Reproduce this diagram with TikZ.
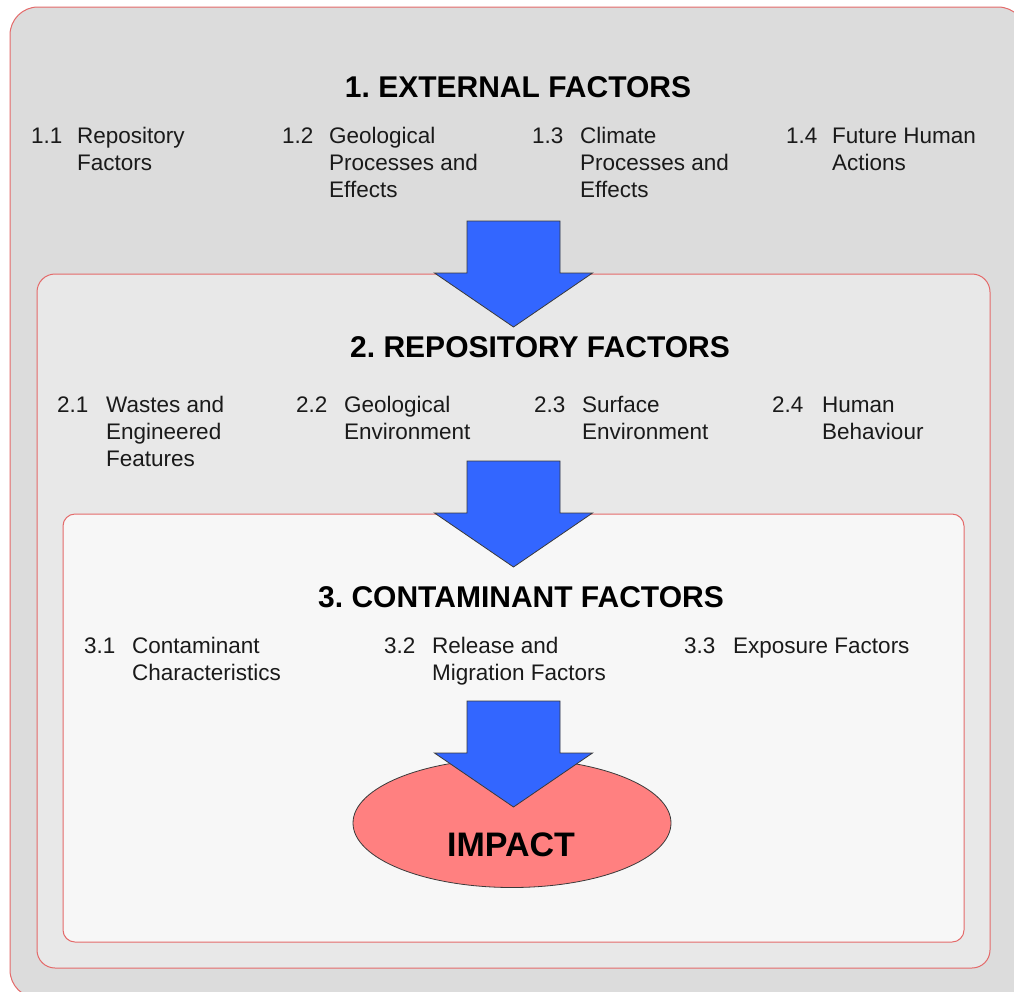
\documentclass[tikz,border=0pt]{standalone}
\usepackage{fontspec}
\setmainfont{Liberation Sans}
\setsansfont{Liberation Sans}
\usetikzlibrary{shapes.geometric}
\frenchspacing

\definecolor{levelone}{HTML}{DCDCDC}
\definecolor{leveltwo}{HTML}{E8E8E8}
\definecolor{levelthree}{HTML}{F7F7F7}
\definecolor{frameline}{HTML}{E46A6A}
\definecolor{flowblue}{HTML}{3366FF}
\definecolor{impactred}{HTML}{FF8080}
\definecolor{outlinegray}{HTML}{3A3A3A}
\definecolor{bodytext}{HTML}{1A1A1A}

% stacked lines of an item, baseline on the first line
\newcommand\itemlines[1]{\vtop{\baselineskip=27pt\halign{##\hfil\cr#1\crcr}}}

\tikzset{
  levelbox/.style={draw=frameline, line width=1pt},
  leveltitle/.style={inner sep=0pt, anchor=base, font=\bfseries\fontsize{30}{36}\selectfont, text=black},
  itemnum/.style={inner sep=0pt, anchor=base west, font=\fontsize{22.5}{27}\selectfont, text=bodytext},
  itemtext/.style={inner sep=0pt, anchor=base west, font=\fontsize{22.5}{27}\selectfont, text=bodytext},
  flowarrow/.style={fill=flowblue, draw=outlinegray, line width=0.8pt, line join=miter},
  pics/downarrow/.style={code={
    \draw[flowarrow] (-46.5,0) -- (46.5,0) -- (46.5,52) -- (79,52) -- (0,106)
      -- (-79,52) -- (-46.5,52) -- cycle;
  }}
}

\begin{document}
\begin{tikzpicture}[x=1pt,y=-1pt]
\useasboundingbox (0,0) rectangle (1014,991);
\clip (0,0) rectangle (1014,991);
\fill[white] (0,0) rectangle (1014,991);

% nested level frames
\draw[levelbox, fill=levelone, rounded corners=28pt] (10,7) rectangle (1026,998);
\draw[levelbox, fill=leveltwo, rounded corners=18pt] (37,274) rectangle (990,968);
\draw[levelbox, fill=levelthree, rounded corners=12pt] (63,514) rectangle (964,942);

% level 1
\node[leveltitle] (t1) at (518,97) {1. EXTERNAL FACTORS};
\node[itemnum] (n11) at (31,143) {1.1};
\node[itemtext] (i11) at (77,143) {\itemlines{Repository\cr Factors}};
\node[itemnum] (n12) at (282,143) {1.2};
\node[itemtext] (i12) at (329,143) {\itemlines{Geological\cr Processes and\cr Effects}};
\node[itemnum] (n13) at (532,143) {1.3};
\node[itemtext] (i13) at (580,143) {\itemlines{Climate\cr Processes and\cr Effects}};
\node[itemnum] (n14) at (786,143) {1.4};
\node[itemtext] (i14) at (832,143) {\itemlines{Future Human\cr Actions}};

% level 2
\node[leveltitle] (t2) at (540,357) {2. REPOSITORY FACTORS};
\node[itemnum] (n21) at (57,412) {2.1};
\node[itemtext] (i21) at (106,412) {\itemlines{Wastes and\cr Engineered\cr Features}};
\node[itemnum] (n22) at (296,412) {2.2};
\node[itemtext] (i22) at (344,412) {\itemlines{Geological\cr Environment}};
\node[itemnum] (n23) at (534,412) {2.3};
\node[itemtext] (i23) at (582,412) {\itemlines{Surface\cr Environment}};
\node[itemnum] (n24) at (772,412) {2.4};
\node[itemtext] (i24) at (822,412) {\itemlines{Human\cr Behaviour}};

% level 3
\node[leveltitle] (t3) at (521,607) {3. CONTAMINANT FACTORS};
\node[itemnum] (n31) at (84,653) {3.1};
\node[itemtext] (i31) at (132,653) {\itemlines{Contaminant\cr Characteristics}};
\node[itemnum] (n32) at (384,653) {3.2};
\node[itemtext] (i32) at (432,653) {\itemlines{Release and\cr Migration Factors}};
\node[itemnum] (n33) at (684,653) {3.3};
\node[itemtext] (i33) at (733,653) {Exposure Factors};

% outcome
\node[ellipse, draw=outlinegray, line width=0.8pt, fill=impactred,
      minimum width=318pt, minimum height=129pt, inner sep=0pt] (impact) at (512,823) {};
\node[inner sep=0pt, anchor=base, font=\bfseries\fontsize{34}{40}\selectfont] (impactlabel) at (511,856) {IMPACT};

% flow between levels
\pic at (513.5,221) {downarrow};
\pic at (513.5,461) {downarrow};
\pic at (513.5,701) {downarrow};
\end{tikzpicture}
\end{document}
